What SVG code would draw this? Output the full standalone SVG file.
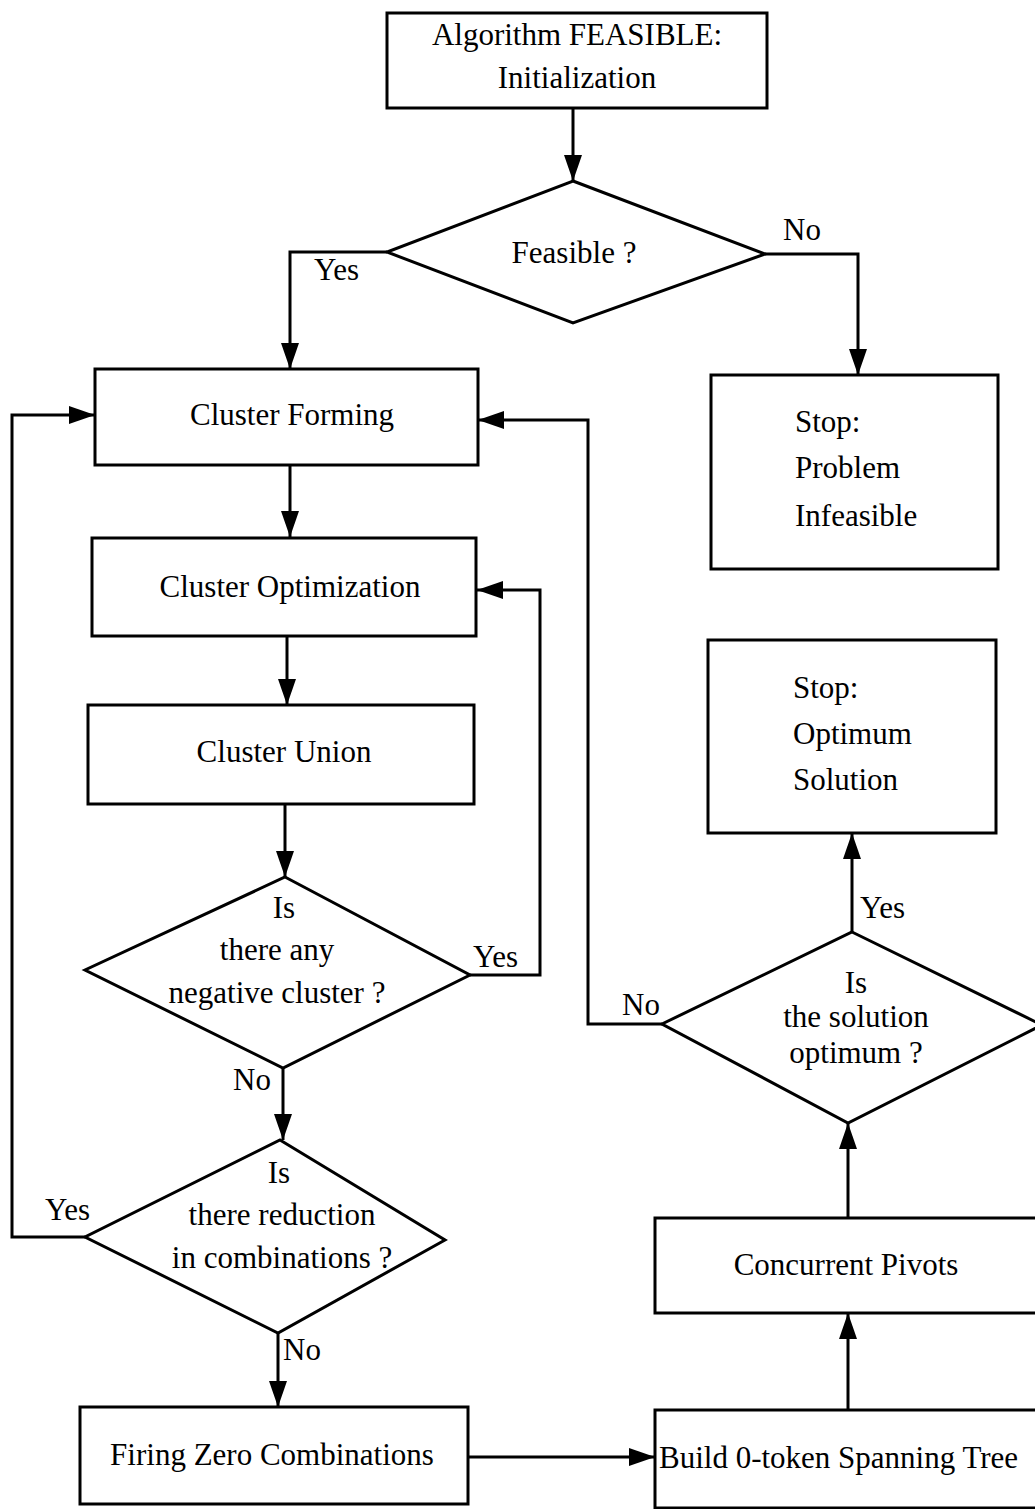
<svg xmlns="http://www.w3.org/2000/svg" width="1035" height="1509" viewBox="0 0 1035 1509">
<style>
.n{fill:#fff;stroke:#000;stroke-width:3}
.c{fill:none;stroke:#000;stroke-width:3;marker-end:url(#ah)}
text{font-family:"Liberation Serif","Times New Roman",serif;font-size:31px;fill:#000}
.m{text-anchor:middle}
</style>
<defs>
<marker id="ah" markerUnits="userSpaceOnUse" markerWidth="28" markerHeight="20" refX="26" refY="9" orient="auto">
<path d="M0,0 L26,9 L0,18 Z" fill="#000"/>
</marker>
</defs>
<g id="connectors">
<path class="c" d="M573,108 V181"/>
<path class="c" d="M387,252 H290 V369"/>
<path class="c" d="M765,254 H858 V375"/>
<path class="c" d="M290,465 V537"/>
<path class="c" d="M287,636 V705"/>
<path class="c" d="M285,804 V877"/>
<path class="c" d="M470,975 H540 V590 H477"/>
<path class="c" d="M283,1068 V1140"/>
<path class="c" d="M85,1237 H12 V415 H95"/>
<path class="c" d="M278,1333 V1407"/>
<path class="c" d="M468,1457 H655"/>
<path class="c" d="M848,1410 V1313"/>
<path class="c" d="M848,1218 V1123"/>
<path class="c" d="M852,932 V833"/>
<path class="c" d="M662,1024 H588 V420 H478"/>
<text x="314" y="280">Yes</text>
<text x="783" y="240">No</text>
<text x="473" y="967">Yes</text>
<text x="233" y="1090">No</text>
<text x="45" y="1220">Yes</text>
<text x="283" y="1360">No</text>
<text x="860" y="918">Yes</text>
<text x="622" y="1015">No</text>
</g>
<g id="init">
<rect class="n" x="387" y="13" width="380" height="95"/>
<text class="m" x="577" y="45">Algorithm FEASIBLE:</text>
<text class="m" x="577" y="88">Initialization</text>
</g>
<g id="feasible">
<polygon class="n" points="573,181 765,254 573,323 387,252"/>
<text class="m" x="574" y="263">Feasible ?</text>
</g>
<g id="stop-infeasible">
<rect class="n" x="711" y="375" width="287" height="194"/>
<text x="795" y="432">Stop:</text>
<text x="795" y="478">Problem</text>
<text x="795" y="526">Infeasible</text>
</g>
<g id="cluster-forming">
<rect class="n" x="95" y="369" width="383" height="96"/>
<text class="m" x="292" y="425">Cluster Forming</text>
</g>
<g id="cluster-optimization">
<rect class="n" x="92" y="538" width="384" height="98"/>
<text class="m" x="290" y="597">Cluster Optimization</text>
</g>
<g id="cluster-union">
<rect class="n" x="88" y="705" width="386" height="99"/>
<text class="m" x="284" y="762">Cluster Union</text>
</g>
<g id="negative">
<polygon class="n" points="285,877 470,975 283,1068 85,970"/>
<text class="m" x="284" y="918">Is</text>
<text class="m" x="277" y="960">there any</text>
<text class="m" x="277" y="1003">negative cluster ?</text>
</g>
<g id="reduction">
<polygon class="n" points="280,1140 445,1240 278,1333 85,1237"/>
<text class="m" x="279" y="1183">Is</text>
<text class="m" x="282" y="1225">there reduction</text>
<text class="m" x="282" y="1268">in combinations ?</text>
</g>
<g id="firing">
<rect class="n" x="80" y="1407" width="388" height="97"/>
<text class="m" x="272" y="1465">Firing Zero Combinations</text>
</g>
<g id="spanning">
<rect class="n" x="655" y="1410" width="390" height="98"/>
<text x="659" y="1468">Build 0-token Spanning Tree</text>
</g>
<g id="pivots">
<rect class="n" x="655" y="1218" width="390" height="95"/>
<text class="m" x="846" y="1275">Concurrent Pivots</text>
</g>
<g id="optimum">
<polygon class="n" points="852,932 1042,1025 848,1123 662,1024"/>
<text class="m" x="856" y="993">Is</text>
<text class="m" x="856" y="1027">the solution</text>
<text class="m" x="856" y="1063">optimum ?</text>
</g>
<g id="stop-optimum">
<rect class="n" x="708" y="640" width="288" height="193"/>
<text x="793" y="698">Stop:</text>
<text x="793" y="744">Optimum</text>
<text x="793" y="790">Solution</text>
</g>
</svg>
